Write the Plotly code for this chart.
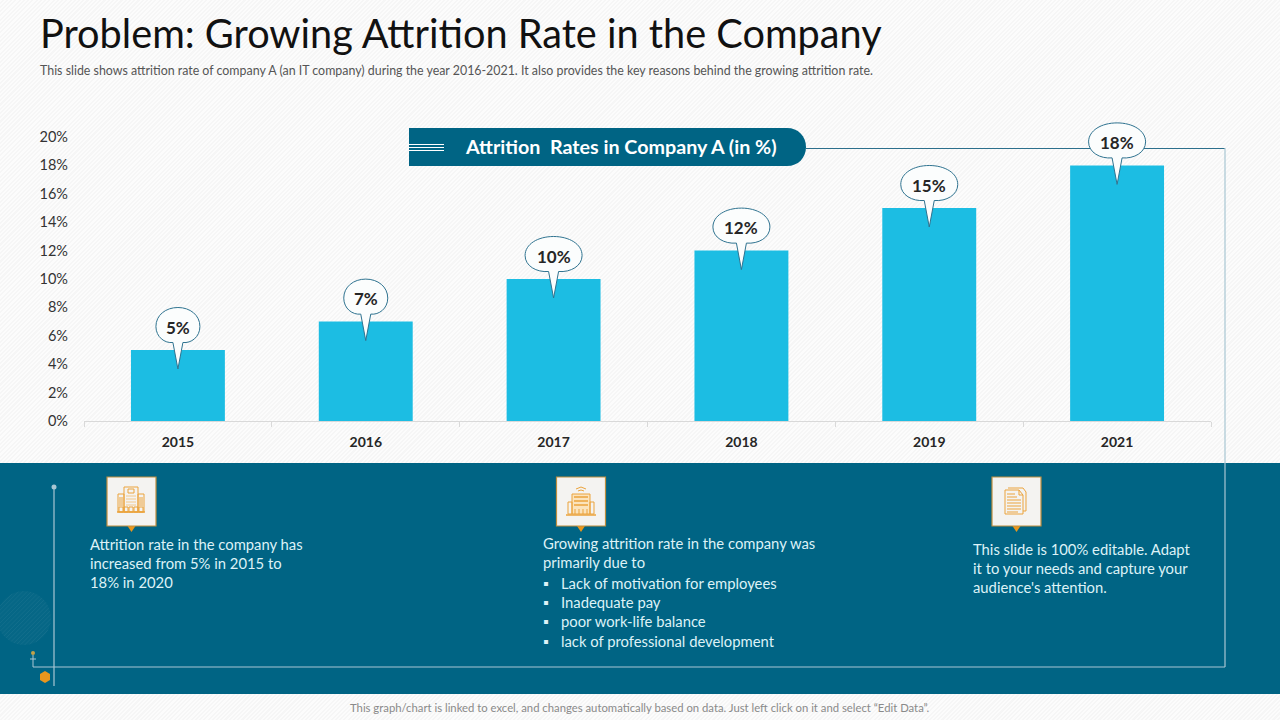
"""Attrition rate slide."""

import math

import plotly.graph_objects as go

W, H = 1280, 720

years = ["2015", "2016", "2017", "2018", "2019", "2021"]
attrition = [5, 7, 10, 12, 15, 18]
y_ticks = [0, 2, 4, 6, 8, 10, 12, 14, 16, 18, 20]

title_text = "Problem: Growing Attrition Rate in the Company"
subtitle_text = (
    "This slide shows attrition rate of company A (an IT company) during the year "
    "2016-2021. It also provides the key reasons behind the growing attrition rate."
)
pill_text = "Attrition  Rates in Company A (in %)"
note_left = "Attrition rate in the company has<br>increased from 5% in 2015 to<br>18% in 2020"
note_mid = "Growing attrition rate in the company was<br>primarily due to"
note_mid_items = [
    "Lack of motivation for employees",
    "Inadequate pay",
    "poor work-life balance",
    "lack of professional development",
]
note_right = "This slide is 100% editable. Adapt<br>it to your needs and capture your<br>audience's attention."
footer_text = (
    "This graph/chart is linked to excel, and changes automatically based on data. "
    "Just left click on it and select “Edit Data”."
)

TEAL = "#006484"
BAR = "#1CBDE3"
ORANGE = "#E8961E"
ICON = "#EBA33C"
PANEL_TEXT = "#DDF2F7"
LINE = "#A8C6D3"
FONT = "Lato, 'Open Sans', sans-serif"

# page hatch sits behind a transparent figure
PAGE_CSS = (
    "document.body.style.margin='0';"
    "document.body.style.background="
    "'repeating-linear-gradient(135deg,#FCFCFC 0 1.5px,#F6F6F6 1.5px 3px)';"
)


def px(x):
    return x / W


def py(y):
    return 1 - y / H


def rect(x0, y0, x1, y1, fill=None, line=None, width=1):
    return dict(
        type="rect", xref="paper", yref="paper", layer="above",
        x0=px(x0), y0=py(y0), x1=px(x1), y1=py(y1),
        fillcolor=fill or "rgba(0,0,0,0)",
        line=dict(color=line or "rgba(0,0,0,0)", width=width),
    )


def seg(x0, y0, x1, y1, color, width=1):
    return dict(
        type="line", xref="paper", yref="paper", layer="above",
        x0=px(x0), y0=py(y0), x1=px(x1), y1=py(y1),
        line=dict(color=color, width=width),
    )


def poly(points, fill=None, line=None, width=1, close=True):
    d = "M" + " L".join(f"{px(x):.5f} {py(y):.5f}" for x, y in points)
    if close:
        d += " Z"
    return dict(
        type="path", xref="paper", yref="paper", layer="above", path=d,
        fillcolor=fill or "rgba(0,0,0,0)",
        line=dict(color=line or "rgba(0,0,0,0)", width=width),
    )


def dot(cx, cy, r, fill):
    return dict(
        type="circle", xref="paper", yref="paper", layer="above",
        x0=px(cx - r), y0=py(cy - r), x1=px(cx + r), y1=py(cy + r),
        fillcolor=fill, line=dict(width=0),
    )


def hatched_circle(cx, cy, r, step=3):
    s = [dot(cx, cy, r, "rgba(255,255,255,0.025)")]
    offset = -r + step / 2
    while offset < r:
        half = math.sqrt(r * r - offset * offset)
        # chord running up to the right, shifted along the normal
        mx, my = cx + offset * 0.7071, cy + offset * 0.7071
        s.append(seg(mx - half * 0.7071, my + half * 0.7071, mx + half * 0.7071, my - half * 0.7071,
                     "rgba(255,255,255,0.05)"))
        offset += step
    return s


def bubble(pos, value):
    # callout in pixels around the top of the bar
    rx = 22 if value < 10 else 28.5
    ry = 19
    cy = 23.5
    path = (
        f"M -5 {cy - ry + 3} "
        f"C {-rx * 0.6} {cy - ry + 2}, {-rx} {cy - ry * 0.55}, {-rx} {cy} "
        f"C {-rx} {cy + ry * 0.6}, {-rx * 0.55} {cy + ry}, 0 {cy + ry} "
        f"C {rx * 0.55} {cy + ry}, {rx} {cy + ry * 0.6}, {rx} {cy} "
        f"C {rx} {cy - ry * 0.55}, {rx * 0.6} {cy - ry + 2}, 5 {cy - ry + 3} "
        f"L 0 -19 Z"
    )
    return dict(
        type="path", layer="above", xref="x", yref="y",
        xsizemode="pixel", ysizemode="pixel", xanchor=pos, yanchor=value,
        path=path, fillcolor="#FBFDFD", line=dict(color="#2F7390", width=1),
    )


def icon_box(x0):
    y0, size = 477, 49
    mid = x0 + size / 2
    return [
        poly([(mid - 4, y0 + size), (mid + 4, y0 + size), (mid, y0 + size + 6)], fill=ORANGE),
        rect(x0, y0, x0 + size, y0 + size, fill="#F4F3F1", line="#BE8E3E", width=1.2),
    ]


def building_icon(cx):
    s = [
        rect(cx - 7, 487, cx + 7, 512, line=ICON),
        rect(cx - 13, 494, cx - 7, 512, line=ICON),
        rect(cx + 7, 494, cx + 13, 512, line=ICON),
        rect(cx - 3, 489, cx + 3, 493, line=ICON),
        seg(cx - 14, 512, cx + 14, 512, ICON, 1.5),
    ]
    for dx in (-11, -9, 9, 11):
        s.append(seg(cx + dx, 497, cx + dx, 506, ICON))
    for row in (496, 499, 502, 505):
        s.append(seg(cx - 5, row, cx + 5, row, "#F3C88A"))
    for dx in (-10, -5, 0, 5, 10):
        s.append(rect(cx + dx - 2, 507, cx + dx + 2, 512, line=ICON))
    return s


def hotel_icon(cx):
    s = [
        rect(cx - 9, 494, cx + 9, 514, fill="#FBE3BC", line=ICON),
        rect(cx - 13, 502, cx - 9, 514, line=ICON),
        rect(cx + 9, 502, cx + 13, 514, line=ICON),
        seg(cx - 15, 515, cx + 15, 515, ICON, 1.5),
        poly([(cx - 5, 489), (cx, 487), (cx + 5, 489)], line=ICON, close=False),
        poly([(cx - 3, 491), (cx, 490), (cx + 3, 491)], line=ICON, close=False),
    ]
    for row in (497, 501, 505):
        s.append(seg(cx - 7, row, cx + 7, row, ICON, 1.5))
    for dx in (-6, -2, 2, 6):
        s.append(seg(cx + dx, 509, cx + dx, 514, ICON))
    return s


def document_icon(cx):
    s = [
        poly([(cx - 7, 488), (cx + 8, 488), (cx + 11, 492), (cx + 11, 511), (cx + 8, 511)], line=ICON, close=False),
        poly([(cx - 10, 490), (cx + 4, 490), (cx + 8, 495), (cx + 8, 514), (cx - 10, 514)],
             fill="#F4F3F1", line=ICON),
        poly([(cx + 4, 490), (cx + 4, 495), (cx + 8, 495)], line=ICON, close=False),
    ]
    for row, end in ((494, 0), (497, 2), (500, 6), (503, 6), (506, 6), (509, 6), (512, 3)):
        s.append(seg(cx - 8, row, cx + end, row, ICON))
    return s


shapes = [
    # bottom band
    rect(0, 463, W, 694, fill=TEAL),
    *hatched_circle(24, 618, 27),
    # header pill
    dict(
        type="path", xref="paper", yref="paper", layer="above",
        path=(
            f"M{px(409)} {py(128)} L{px(787)} {py(128)} "
            f"C{px(798)} {py(128)} {px(806)} {py(136)} {px(806)} {py(147)} "
            f"C{px(806)} {py(158)} {px(798)} {py(166)} {px(787)} {py(166)} "
            f"L{px(409)} {py(166)} Z"
        ),
        fillcolor=TEAL, line=dict(width=0),
    ),
    seg(409, 144.5, 444, 144.5, "white"),
    seg(409, 147.5, 444, 147.5, "white"),
    seg(409, 150.5, 444, 150.5, "white"),
    # frame around the slide body
    seg(806, 148.5, 1225, 148.5, "#2C6F8C", 1),
    seg(1225, 148, 1225, 667, LINE, 1.2),
    seg(33, 667, 1225, 667, LINE, 1.2),
    seg(54, 487, 54, 686, LINE, 1.2),
    dot(54, 487, 2.5, "#A9C7D3"),
    seg(33, 655, 33, 667, LINE),
    seg(30, 659, 36, 659, LINE),
    dot(33, 653, 2, "#C2A24A"),
    poly([(45, 671), (50, 674), (50, 680), (45, 683), (40, 680), (40, 674)], fill=ORANGE),
]
for x0 in (107, 556.5, 992):
    shapes += icon_box(x0)
shapes += building_icon(131) + hotel_icon(581) + document_icon(1015)
shapes += [bubble(i, v) for i, v in enumerate(attrition)]


def label(x, y, text, size, color, anchor="left", bold=False):
    return dict(
        xref="paper", yref="paper", x=px(x), y=py(y), text=f"<b>{text}</b>" if bold else text,
        xanchor=anchor, yanchor="middle", align=anchor if anchor != "center" else "center",
        showarrow=False, font=dict(family=FONT, size=size, color=color),
    )


def top_label(x, y, text, size, color):
    a = label(x, y, text, size, color)
    a["yanchor"] = "top"
    return a


annotations = [
    label(38, 32.5, title_text, 39.7, "#111111"),
    label(38, 71, subtitle_text, 12.4, "#555555"),
    label(621, 147, pill_text, 19.7, "white", anchor="center", bold=True),
    top_label(88, 533, note_left, 14.8, PANEL_TEXT),
    top_label(541, 532, note_mid, 14.8, PANEL_TEXT),
    top_label(541, 572, "<br>".join("▪" for _ in note_mid_items), 14.8, PANEL_TEXT),
    top_label(559, 572, "<br>".join(note_mid_items), 14.8, PANEL_TEXT),
    top_label(971, 538, note_right, 14.8, PANEL_TEXT),
    label(640, 707, footer_text, 11.3, "#8A8A8A", anchor="center"),
]
for i, v in enumerate(attrition):
    annotations.append(dict(
        x=i, y=v, xref="x", yref="y", yshift=23, text=f"<b>{v}%</b>", showarrow=False,
        font=dict(family=FONT, size=17, color="#262626"),
    ))

fig = go.Figure(go.Bar(x=years, y=attrition, marker=dict(color=BAR, line=dict(width=0)), hoverinfo="skip"))

fig.update_layout(
    width=W, height=H, autosize=False,
    margin=dict(l=0, r=0, t=0, b=0, pad=0),
    paper_bgcolor="rgba(0,0,0,0)", plot_bgcolor="rgba(0,0,0,0)",
    bargap=0.5, showlegend=False,
    font=dict(family=FONT, color="#333333"),
    shapes=shapes, annotations=annotations,
)
fig.update_xaxes(
    type="category", categoryorder="array", categoryarray=years, tickson="boundaries",
    domain=[84 / W, 1211 / W], range=[-0.5, len(years) - 0.5], automargin=False,
    ticks="outside", ticklen=5, tickcolor="#D9D9D9", showline=True, linecolor="#D9D9D9",
    ticklabelstandoff=8, showgrid=False,
    tickfont=dict(family=FONT, size=14, color="#262626", weight="bold"),
)
# axis runs past 20% so the top callout is not clipped, about 284 px for 20 points
fig.update_yaxes(
    range=[0, 20 * (421 - 116) / 284], tickvals=y_ticks, ticktext=[f"{t}%" for t in y_ticks],
    showgrid=False, zeroline=False, domain=[1 - 421 / H, 1 - 116 / H], automargin=False,
    showline=False, ticks="", ticklabelstandoff=15,
    tickfont=dict(family=FONT, size=14.5, color="#333333"),
)

fig.write_html("out.html", config=dict(displayModeBar=False), post_script=PAGE_CSS)
